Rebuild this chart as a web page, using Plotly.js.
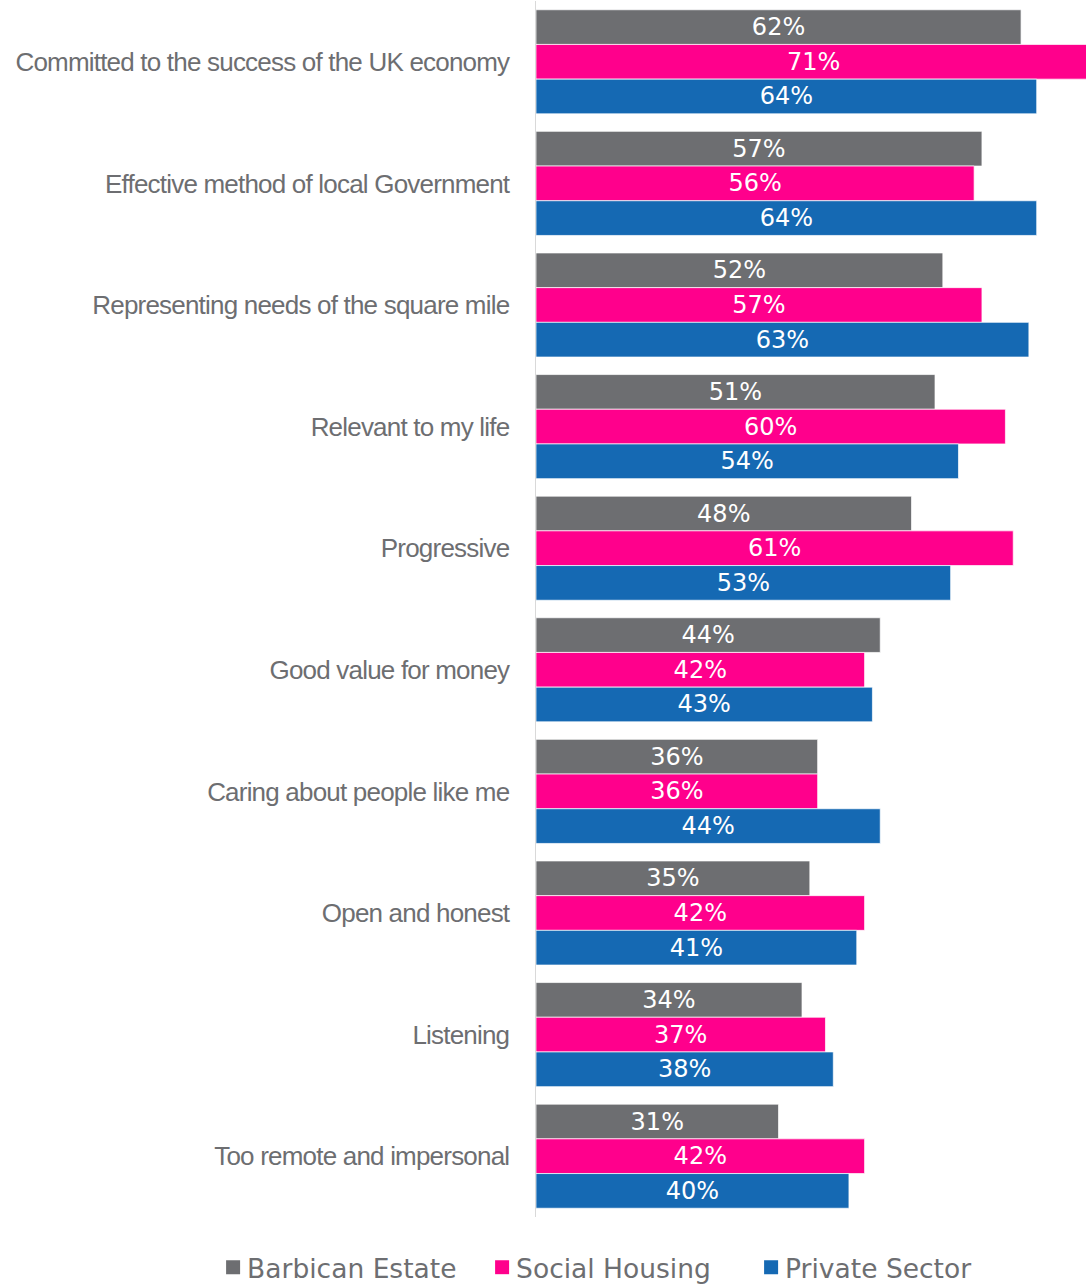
<!DOCTYPE html>
<html>
<head>
<meta charset="utf-8">
<script src="https://cdn.plot.ly/plotly-3.0.1.min.js"></script>
<style>
html,body{margin:0;padding:0;background:#fff;}
#chart{width:1086px;height:1284px;}
.ytick text{letter-spacing:-0.8px;}
</style>
</head>
<body>
<div id="chart"></div>
<script>
const categories = [
  "Committed to the success of the UK economy",
  "Effective method of local Government",
  "Representing needs of the square mile",
  "Relevant to my life",
  "Progressive",
  "Good value for money",
  "Caring about people like me",
  "Open and honest",
  "Listening",
  "Too remote and impersonal"
];
const seriesNames = ["Barbican Estate", "Social Housing", "Private Sector"];
const barbican = [62, 57, 52, 51, 48, 44, 36, 35, 34, 31];
const social   = [71, 56, 57, 60, 61, 42, 36, 42, 37, 42];
const privateS = [64, 64, 63, 54, 53, 43, 44, 41, 38, 40];
const colors = ["#6d6e71", "#ff008c", "#1569b3"];

const allSeries = [barbican, social, privateS];
const traces = allSeries.map((vals, i) => ({
  type: "bar",
  orientation: "h",
  name: seriesNames[i],
  y: categories,
  x: vals,
  text: vals.map(v => v + "%"),
  textposition: "inside",
  insidetextanchor: "middle",
  constraintext: "none",
  textfont: {family: "DejaVu Sans", size: 24, color: "#ffffff"},
  marker: {color: colors[i], line: {color: "rgba(255,255,255,0.7)", width: 1}},
  hoverinfo: "none"
}));

const layout = {
  width: 1086,
  height: 1284,
  margin: {l: 536, r: 0, t: 1, b: 67, pad: 0, autoexpand: false},
  paper_bgcolor: "#ffffff",
  plot_bgcolor: "#ffffff",
  barmode: "group",
  bargap: 0.144,
  bargroupgap: 0,
  showlegend: true,
  legend: {
    orientation: "h",
    x: -0.598, xanchor: "left",
    y: -0.0415, yanchor: "middle",
    font: {family: "DejaVu Sans", size: 26.5, color: "#6d6e71"},
    itemwidth: 30,
    entrywidth: 224,
    tracegroupgap: 0
  },
  xaxis: {
    range: [0, 70.3],
    visible: false,
    fixedrange: true
  },
  yaxis: {
    autorange: "reversed",
    showline: true,
    linecolor: "#d9d9d9",
    linewidth: 1.5,
    showgrid: false,
    zeroline: false,
    ticks: "outside",
    ticklen: 20,
    tickcolor: "rgba(0,0,0,0)",
    tickfont: {family: "Liberation Sans", size: 26, color: "#6d6e71"},
    fixedrange: true
  }
};

Plotly.newPlot("chart", traces, layout, {displayModeBar: false, staticPlot: true}).then(() => {
  document.querySelectorAll("#chart .legend .legendpoints path").forEach(p => {
    p.setAttribute("d", "M13,7H-1V-7H13Z");
    p.style.strokeWidth = "0";
  });
});
</script>
</body>
</html>
